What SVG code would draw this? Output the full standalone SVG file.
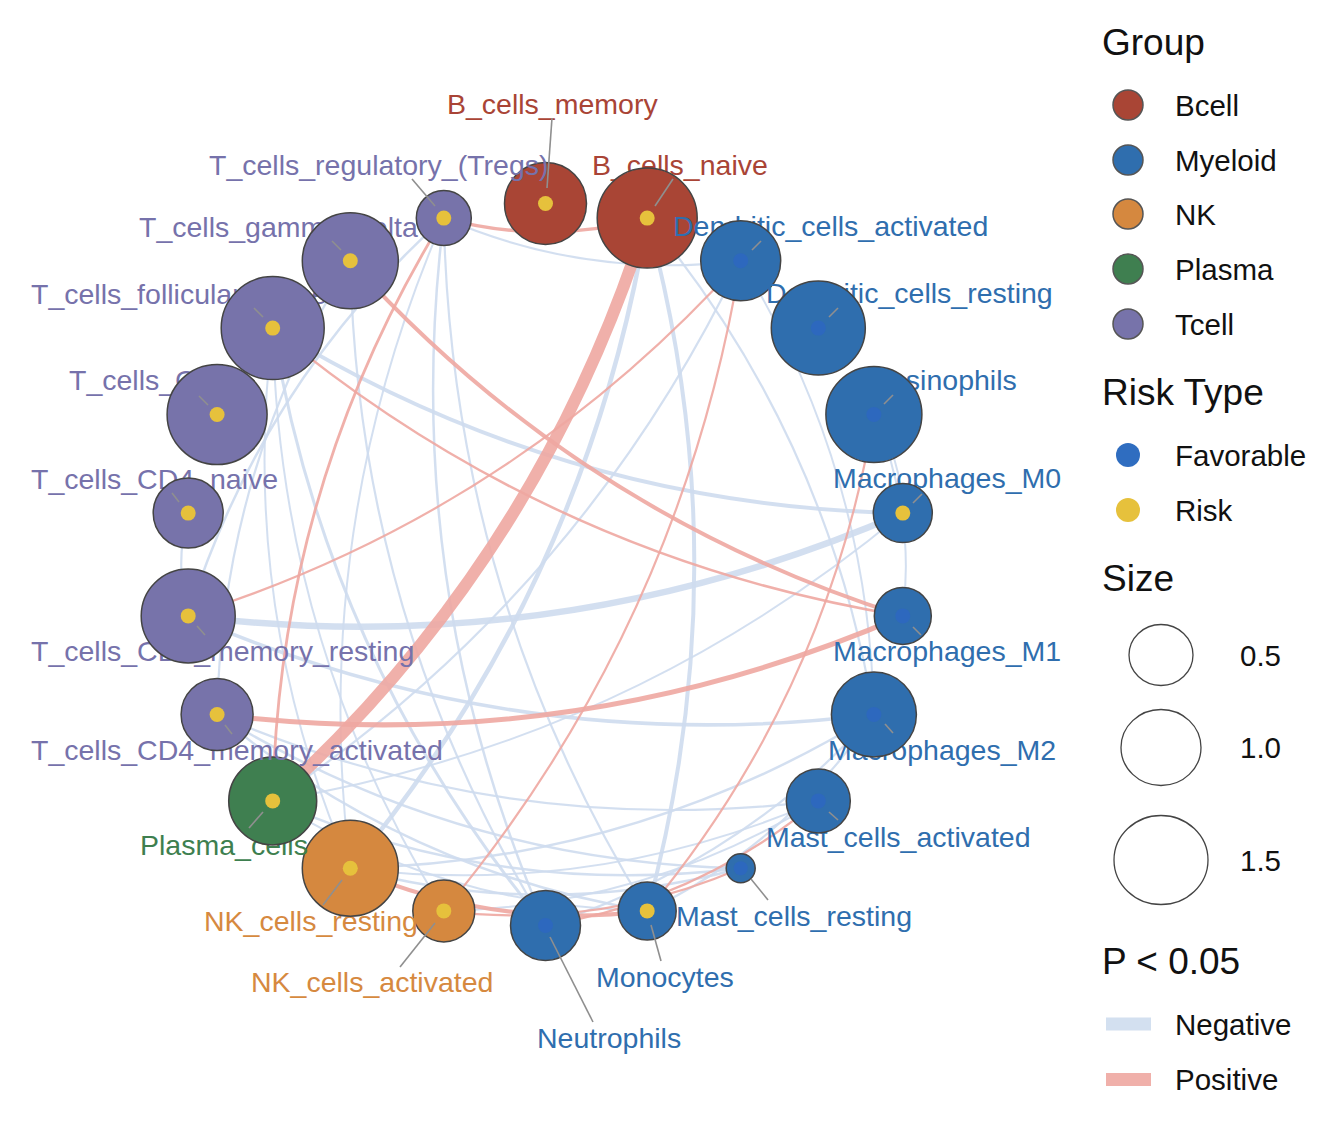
<svg xmlns="http://www.w3.org/2000/svg" width="1328" height="1134" viewBox="0 0 1328 1134">
<style>
.neg{fill:none;stroke:#cedcee;stroke-opacity:0.9;stroke-linecap:butt}
.pos{fill:none;stroke:#eea7a1;stroke-opacity:0.9;stroke-linecap:butt}
.nd{stroke:#444;stroke-width:1.5}
.B{fill:#a94535}.M{fill:#2f6eae}.N{fill:#d5883f}.P{fill:#3f7f50}.T{fill:#7773aa}
.risk{fill:#e6c13c}.fav{fill:#2d68be}
.lb{font-family:"Liberation Sans",Arial,Helvetica,sans-serif;font-size:28.5px}
.tB{fill:#a94436}.tM{fill:#2f6eae}.tN{fill:#d6893f}.tP{fill:#3e7f4f}.tT{fill:#7672ab}
.ld{stroke:#8f8f8f;stroke-width:1.6;fill:none}
.lgt{font-family:"Liberation Sans",Arial,Helvetica,sans-serif;font-size:37px;fill:#111}
.lgl{font-family:"Liberation Sans",Arial,Helvetica,sans-serif;font-size:29.5px;fill:#111}
.lgc{stroke:#555;stroke-width:1.5}
</style>
<rect width="1328" height="1134" fill="#ffffff"/>
<g id="connectors">
<path class="neg" stroke-width="6.5" d="M188.2,615.9 Q559.5,661.7 902.8,513.1"/>
<path class="neg" stroke-width="4" d="M272.7,328.1 Q562.6,506.3 902.8,513.1"/>
<path class="neg" stroke-width="3.5" d="M188.2,615.9 Q517.6,758.5 873.9,714.5"/>
<path class="neg" stroke-width="4.5" d="M350.3,868.2 Q587.2,583.5 647.2,218.1"/>
<path class="neg" stroke-width="4" d="M647.2,910.9 Q741.4,564.5 647.2,218.1"/>
<path class="neg" stroke-width="2.2" d="M443.8,218.1 Q586.5,279.8 740.7,260.8"/>
<path class="neg" stroke-width="2.5" d="M443.8,218.1 Q398.4,585.6 545.5,925.5"/>
<path class="neg" stroke-width="2.2" d="M443.8,218.1 Q451.3,592.2 647.2,910.9"/>
<path class="neg" stroke-width="2" d="M443.8,218.1 Q308.6,530.4 350.3,868.2"/>
<path class="neg" stroke-width="2.5" d="M443.8,218.1 Q261.9,382.2 188.2,615.9"/>
<path class="neg" stroke-width="2.2" d="M188.2,513.1 Q174.2,564.5 188.2,615.9"/>
<path class="neg" stroke-width="2" d="M272.7,328.1 Q279,642.8 443.8,910.9"/>
<path class="neg" stroke-width="3" d="M272.7,328.1 Q327.9,663.9 545.5,925.5"/>
<path class="neg" stroke-width="2" d="M272.7,328.1 Q238,608.8 350.3,868.2"/>
<path class="neg" stroke-width="2.5" d="M350.3,868.2 Q633,862.6 873.9,714.5"/>
<path class="neg" stroke-width="2.2" d="M873.9,714.5 Q828.1,435.5 647.2,218.1"/>
<path class="neg" stroke-width="2" d="M873.9,714.5 Q869,469.5 740.7,260.8"/>
<path class="neg" stroke-width="2.2" d="M272.7,800.9 Q580.2,594.5 740.7,260.8"/>
<path class="neg" stroke-width="2" d="M272.7,800.9 Q626.9,742.7 902.8,513.1"/>
<path class="neg" stroke-width="2.2" d="M217.1,714.5 Q505.9,839.5 818.3,800.9"/>
<path class="neg" stroke-width="2.5" d="M217.1,714.5 Q458,862.6 740.7,868.2"/>
<path class="neg" stroke-width="2.5" d="M272.7,800.9 Q497.5,898.2 740.7,868.2"/>
<path class="neg" stroke-width="2" d="M350.3,868.2 Q593.5,898.2 818.3,800.9"/>
<path class="neg" stroke-width="2.5" d="M350.3,868.2 Q545.5,921.3 740.7,868.2"/>
<path class="neg" stroke-width="2.2" d="M545.5,925.5 Q738.4,864.7 873.9,714.5"/>
<path class="neg" stroke-width="2" d="M443.8,910.9 Q646,906.8 818.3,800.9"/>
<path class="neg" stroke-width="2.2" d="M350.3,260.8 Q222,469.5 217.1,714.5"/>
<path class="neg" stroke-width="2.5" d="M217.1,714.5 Q405.4,871.2 647.2,910.9"/>
<path class="neg" stroke-width="2" d="M272.7,800.9 Q445,906.8 647.2,910.9"/>
<path class="neg" stroke-width="2" d="M902.8,615.9 Q915.8,511.3 873.9,414.5"/>
<path class="neg" stroke-width="2" d="M902.8,513.1 Q901.8,459.9 873.9,414.5"/>
<path class="neg" stroke-width="2.2" d="M350.3,260.8 Q357.5,619.7 545.5,925.5"/>
<path class="neg" stroke-width="2.2" d="M647.2,910.9 Q787.3,843.5 873.9,714.5"/>
<path class="pos" stroke-width="12" d="M272.7,800.9 Q539.2,560.4 647.2,218.1"/>
<path class="pos" stroke-width="3.5" d="M443.8,218.1 Q545.5,245.8 647.2,218.1"/>
<path class="pos" stroke-width="4" d="M350.3,260.8 Q578.3,513.5 902.8,615.9"/>
<path class="pos" stroke-width="2.5" d="M272.7,328.1 Q548.6,557.7 902.8,615.9"/>
<path class="pos" stroke-width="2.8" d="M443.8,218.1 Q279,486.2 272.7,800.9"/>
<path class="pos" stroke-width="2.2" d="M188.2,615.9 Q512.8,513.5 740.7,260.8"/>
<path class="pos" stroke-width="5" d="M217.1,714.5 Q573.4,758.5 902.8,615.9"/>
<path class="pos" stroke-width="2.2" d="M443.8,910.9 Q680.7,626.2 740.7,260.8"/>
<path class="pos" stroke-width="2.2" d="M647.2,910.9 Q828.1,693.5 873.9,414.5"/>
<path class="pos" stroke-width="4" d="M350.3,868.2 Q492.9,930 647.2,910.9"/>
<path class="pos" stroke-width="2.2" d="M443.8,910.9 Q598.1,930 740.7,868.2"/>
<path class="pos" stroke-width="2.2" d="M545.5,925.5 Q698.8,900.3 818.3,800.9"/>
</g>
<g id="nodes" class="lb">
<g id="n-B_cells_memory"><text class="tB" x="447" y="114">B_cells_memory</text><circle class="nd B" cx="545.5" cy="203.5" r="41"/><circle class="risk" cx="545.5" cy="203.5" r="7.5"/></g>
<g id="n-B_cells_naive"><text class="tB" x="592" y="175">B_cells_naive</text><circle class="nd B" cx="647.2" cy="218.1" r="50"/><circle class="risk" cx="647.2" cy="218.1" r="7.5"/></g>
<g id="n-Dendritic_cells_activated"><text class="tM" x="673" y="236">Dendritic_cells_activated</text><circle class="nd M" cx="740.7" cy="260.8" r="40"/><circle class="fav" cx="740.7" cy="260.8" r="7.5"/></g>
<g id="n-Dendritic_cells_resting"><text class="tM" x="766" y="303">Dendritic_cells_resting</text><circle class="nd M" cx="818.3" cy="328.1" r="47"/><circle class="fav" cx="818.3" cy="328.1" r="7.5"/></g>
<g id="n-Eosinophils"><text class="tM" x="871" y="390">Eosinophils</text><circle class="nd M" cx="873.9" cy="414.5" r="48"/><circle class="fav" cx="873.9" cy="414.5" r="7.5"/></g>
<g id="n-Macrophages_M0"><text class="tM" x="833" y="488">Macrophages_M0</text><circle class="nd M" cx="902.8" cy="513.1" r="29.5"/><circle class="risk" cx="902.8" cy="513.1" r="7.5"/></g>
<g id="n-Macrophages_M1"><text class="tM" x="833" y="661">Macrophages_M1</text><circle class="nd M" cx="902.8" cy="615.9" r="28.5"/><circle class="fav" cx="902.8" cy="615.9" r="7.5"/></g>
<g id="n-Macrophages_M2"><text class="tM" x="828" y="760">Macrophages_M2</text><circle class="nd M" cx="873.9" cy="714.5" r="42.5"/><circle class="fav" cx="873.9" cy="714.5" r="7.5"/></g>
<g id="n-Mast_cells_activated"><text class="tM" x="766" y="847">Mast_cells_activated</text><circle class="nd M" cx="818.3" cy="800.9" r="32"/><circle class="fav" cx="818.3" cy="800.9" r="7.5"/></g>
<g id="n-Mast_cells_resting"><text class="tM" x="676" y="926">Mast_cells_resting</text><circle class="nd M" cx="740.7" cy="868.2" r="14.5"/><circle class="fav" cx="740.7" cy="868.2" r="7"/></g>
<g id="n-Monocytes"><text class="tM" x="596" y="987">Monocytes</text><circle class="nd M" cx="647.2" cy="910.9" r="29"/><circle class="risk" cx="647.2" cy="910.9" r="7.5"/></g>
<g id="n-Neutrophils"><text class="tM" x="537" y="1048">Neutrophils</text><circle class="nd M" cx="545.5" cy="925.5" r="35"/><circle class="fav" cx="545.5" cy="925.5" r="7.5"/></g>
<g id="n-NK_cells_activated"><text class="tN" x="251" y="992">NK_cells_activated</text><circle class="nd N" cx="443.8" cy="910.9" r="31"/><circle class="risk" cx="443.8" cy="910.9" r="7.5"/></g>
<g id="n-NK_cells_resting"><text class="tN" x="204" y="931">NK_cells_resting</text><circle class="nd N" cx="350.3" cy="868.2" r="48"/><circle class="risk" cx="350.3" cy="868.2" r="7.5"/></g>
<g id="n-Plasma_cells"><text class="tP" x="140" y="855">Plasma_cells</text><circle class="nd P" cx="272.7" cy="800.9" r="44"/><circle class="risk" cx="272.7" cy="800.9" r="7.5"/></g>
<g id="n-T_cells_CD4_memory_activated"><text class="tT" x="31" y="760">T_cells_CD4_memory_activated</text><circle class="nd T" cx="217.1" cy="714.5" r="36"/><circle class="risk" cx="217.1" cy="714.5" r="7.5"/></g>
<g id="n-T_cells_CD4_memory_resting"><text class="tT" x="31" y="661">T_cells_CD4_memory_resting</text><circle class="nd T" cx="188.2" cy="615.9" r="47"/><circle class="risk" cx="188.2" cy="615.9" r="7.5"/></g>
<g id="n-T_cells_CD4_naive"><text class="tT" x="31" y="489">T_cells_CD4_naive</text><circle class="nd T" cx="188.2" cy="513.1" r="35"/><circle class="risk" cx="188.2" cy="513.1" r="7.5"/></g>
<g id="n-T_cells_CD8"><text class="tT" x="69" y="390">T_cells_CD8</text><circle class="nd T" cx="217.1" cy="414.5" r="50"/><circle class="risk" cx="217.1" cy="414.5" r="7.5"/></g>
<g id="n-T_cells_follicular_helper"><text class="tT" x="31" y="304">T_cells_follicular_helper</text><circle class="nd T" cx="272.7" cy="328.1" r="51.5"/><circle class="risk" cx="272.7" cy="328.1" r="7.5"/></g>
<g id="n-T_cells_gamma_delta"><text class="tT" x="139" y="237">T_cells_gamma_delta</text><circle class="nd T" cx="350.3" cy="260.8" r="48"/><circle class="risk" cx="350.3" cy="260.8" r="7.5"/></g>
<g id="n-T_cells_regulatory_Tregs"><text class="tT" x="209" y="175">T_cells_regulatory_(Tregs)</text><circle class="nd T" cx="443.8" cy="218.1" r="27.5"/><circle class="risk" cx="443.8" cy="218.1" r="7.5"/></g>
</g>
<g id="leaders" class="ld">
<line x1="552" y1="118" x2="547" y2="188"/>
<line x1="673" y1="179" x2="655" y2="206"/>
<line x1="761" y1="241" x2="752" y2="250"/>
<line x1="838" y1="308" x2="829" y2="317"/>
<line x1="893" y1="395" x2="884" y2="404"/>
<line x1="922" y1="494" x2="913" y2="503"/>
<line x1="913" y1="627" x2="921" y2="635"/>
<line x1="885" y1="724" x2="893" y2="733"/>
<line x1="829" y1="812" x2="838" y2="820"/>
<line x1="751" y1="879" x2="768" y2="900"/>
<line x1="651" y1="925" x2="661" y2="961"/>
<line x1="550" y1="937" x2="593" y2="1022"/>
<line x1="435" y1="923" x2="400" y2="967"/>
<line x1="342" y1="880" x2="323" y2="905"/>
<line x1="263" y1="812" x2="249" y2="828"/>
<line x1="225" y1="725" x2="232" y2="734"/>
<line x1="197" y1="626" x2="205" y2="635"/>
<line x1="172" y1="493" x2="179" y2="502"/>
<line x1="199" y1="396" x2="208" y2="405"/>
<line x1="254" y1="308" x2="263" y2="317"/>
<line x1="332" y1="241" x2="341" y2="250"/>
<line x1="412" y1="179" x2="435" y2="206"/>
</g>
<g id="legend">
<text class="lgt" x="1102" y="55">Group</text>
<circle class="lgc B" cx="1128" cy="105" r="15"/><text class="lgl" x="1175" y="116">Bcell</text>
<circle class="lgc M" cx="1128" cy="160" r="15"/><text class="lgl" x="1175" y="171">Myeloid</text>
<circle class="lgc N" cx="1128" cy="214" r="15"/><text class="lgl" x="1175" y="225">NK</text>
<circle class="lgc P" cx="1128" cy="269" r="15"/><text class="lgl" x="1175" y="280">Plasma</text>
<circle class="lgc T" cx="1128" cy="324" r="15"/><text class="lgl" x="1175" y="335">Tcell</text>
<text class="lgt" x="1102" y="405">Risk Type</text>
<circle fill="#2f6dc0" cx="1128" cy="455" r="12"/><text class="lgl" x="1175" y="466">Favorable</text>
<circle fill="#e6c13c" cx="1128" cy="510" r="12"/><text class="lgl" x="1175" y="521">Risk</text>
<text class="lgt" x="1102" y="591">Size</text>
<ellipse cx="1161" cy="655" rx="32" ry="30.5" fill="none" stroke="#444" stroke-width="1.3"/><text class="lgl" x="1240" y="666">0.5</text>
<ellipse cx="1161" cy="747.5" rx="40" ry="38" fill="none" stroke="#444" stroke-width="1.3"/><text class="lgl" x="1240" y="758">1.0</text>
<ellipse cx="1161" cy="860" rx="47" ry="44.5" fill="none" stroke="#444" stroke-width="1.3"/><text class="lgl" x="1240" y="871">1.5</text>
<text class="lgt" x="1102" y="974">P &lt; 0.05</text>
<rect x="1106" y="1017.5" width="45" height="13" fill="#d3e0f0"/><text class="lgl" x="1175" y="1035">Negative</text>
<rect x="1106" y="1073" width="45" height="13" fill="#f0b0aa"/><text class="lgl" x="1175" y="1090">Positive</text>
</g>
</svg>
